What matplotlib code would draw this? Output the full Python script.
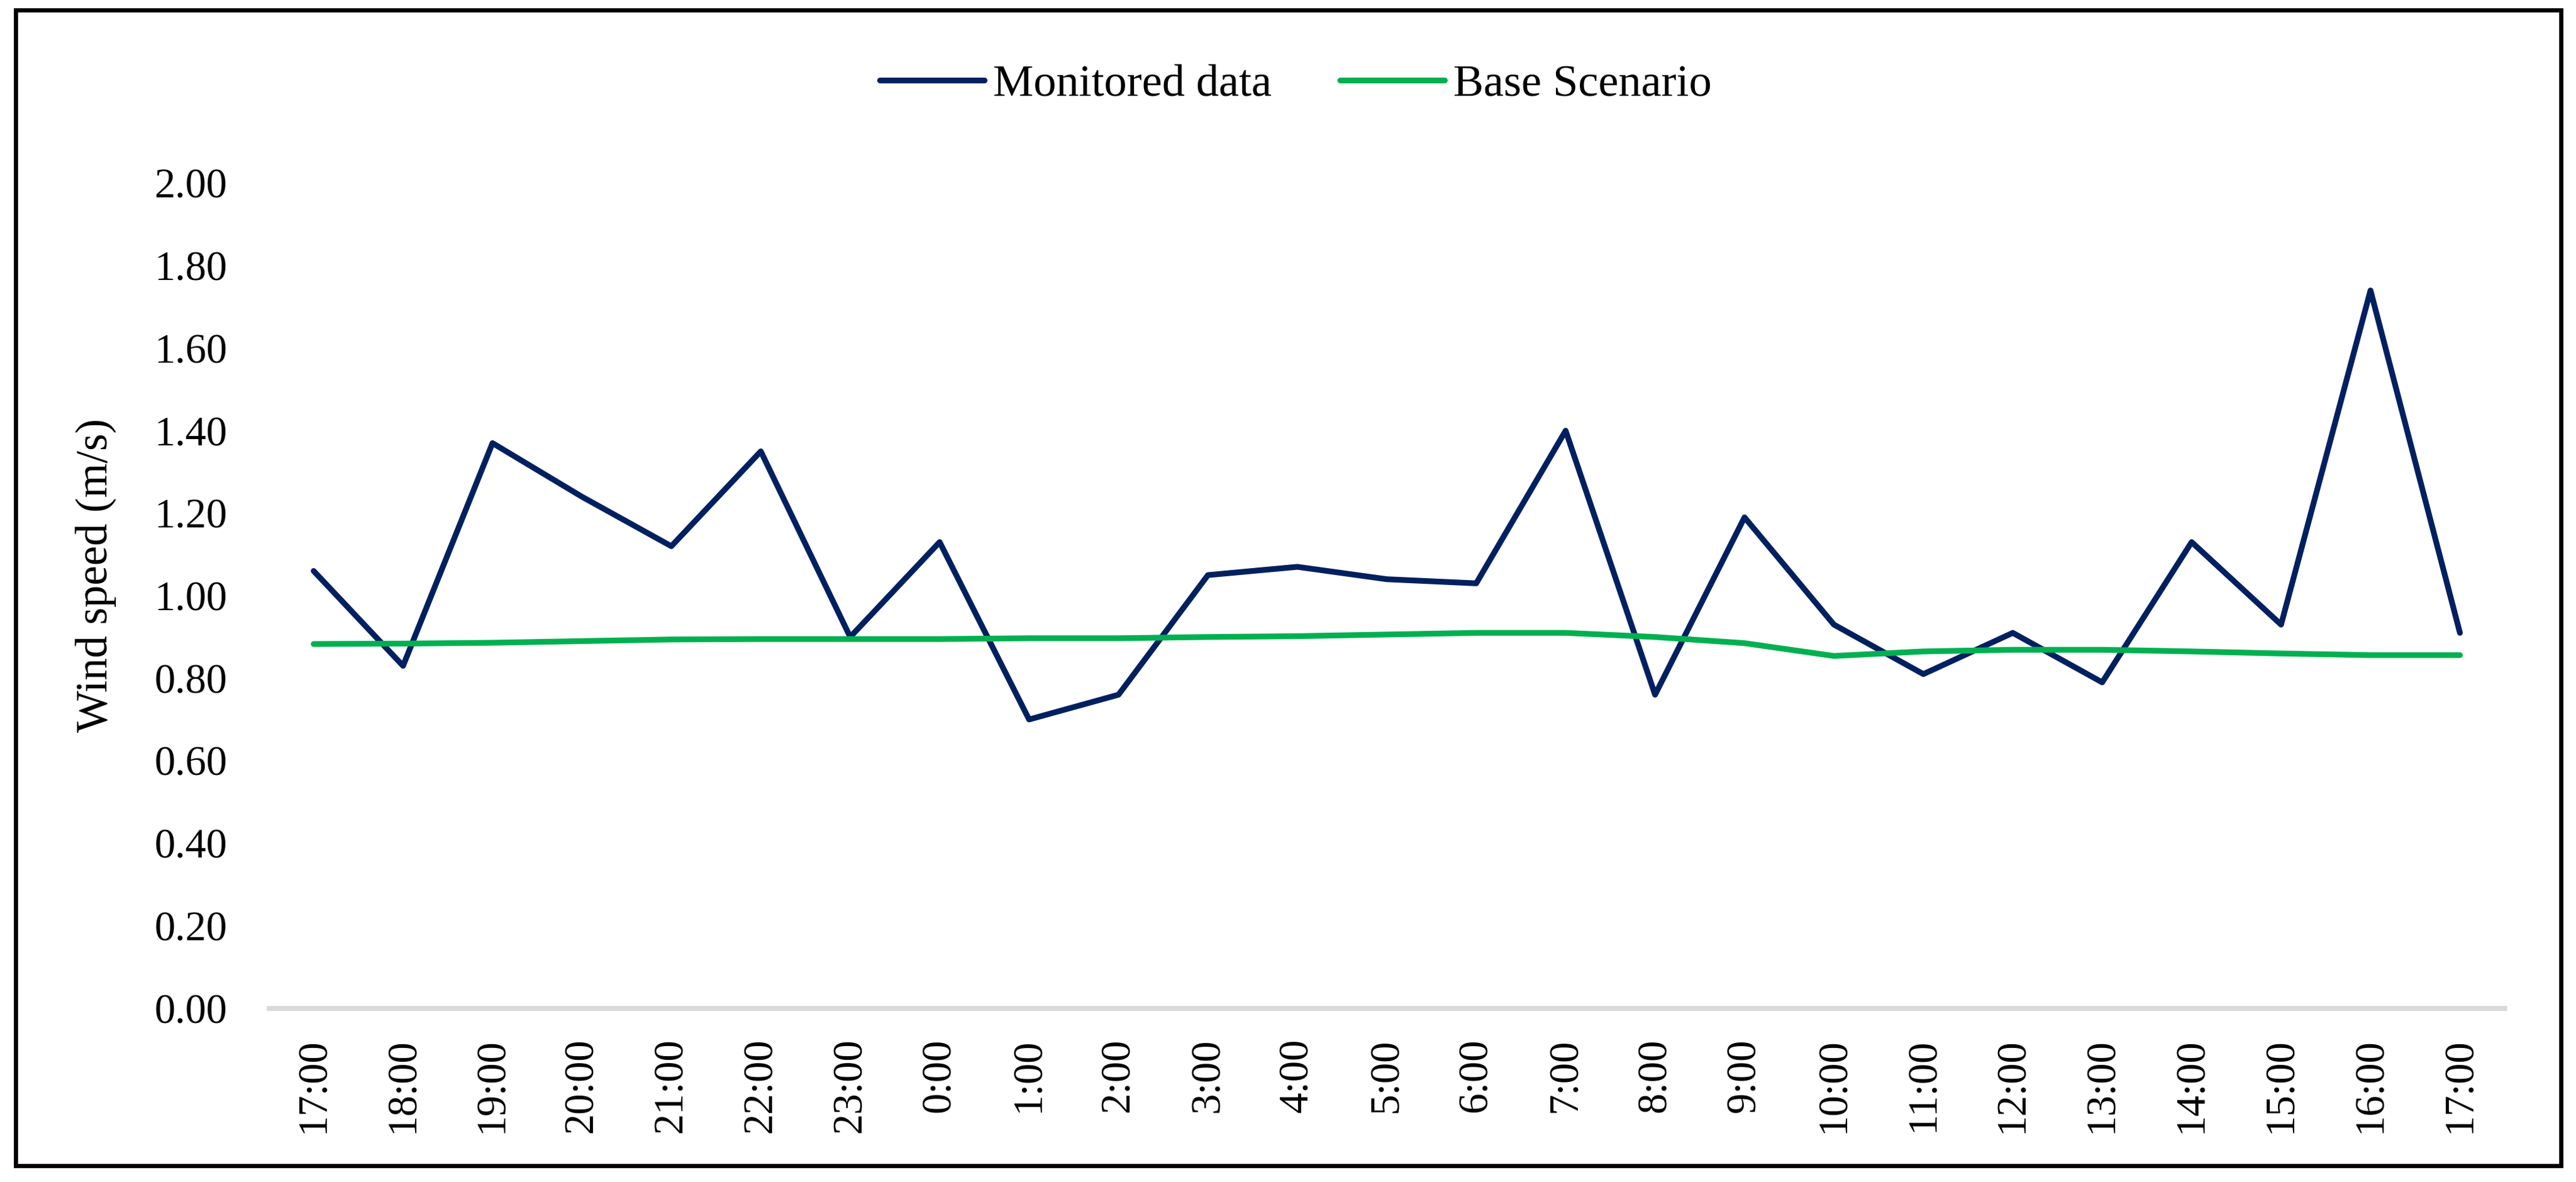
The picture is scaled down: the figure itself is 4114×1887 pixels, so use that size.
import matplotlib
matplotlib.use('Agg')
import matplotlib.pyplot as plt
from matplotlib.patches import Rectangle

# Hourly labels and wind speed series (m/s)
hours = ['17:00', '18:00', '19:00', '20:00', '21:00', '22:00', '23:00', '0:00',
         '1:00', '2:00', '3:00', '4:00', '5:00', '6:00', '7:00', '8:00', '9:00',
         '10:00', '11:00', '12:00', '13:00', '14:00', '15:00', '16:00', '17:00']
monitored = [1.06, 0.83, 1.37, 1.24, 1.12, 1.35, 0.90, 1.13, 0.70, 0.76, 1.05, 1.07,
             1.04, 1.03, 1.40, 0.76, 1.19, 0.93, 0.81, 0.91, 0.79, 1.13, 0.93, 1.74, 0.91]
base = [0.883, 0.884, 0.886, 0.890, 0.894, 0.895, 0.895, 0.895, 0.897, 0.897, 0.900,
        0.902, 0.906, 0.910, 0.910, 0.900, 0.885, 0.854, 0.865, 0.869, 0.869, 0.865,
        0.860, 0.856, 0.856]
yticks = [0.0, 0.2, 0.4, 0.6, 0.8, 1.0, 1.2, 1.4, 1.6, 1.8, 2.0]

plt.rcParams['font.family'] = ['Liberation Serif', 'DejaVu Serif']

fig = plt.figure(figsize=(4114 / 300, 1887 / 300), dpi=300)
ax = fig.add_axes([0.1044, 0.147, 0.8679, 0.698])

x = list(range(len(hours)))
ax.plot(x, monitored, color='#002060', lw=2.2, label='Monitored data',
        solid_joinstyle='round', solid_capstyle='round')
ax.plot(x, base, color='#00B050', lw=2.2, label='Base Scenario',
        solid_joinstyle='round', solid_capstyle='round')

ax.set_xlim(-0.5, len(hours) - 0.5)
ax.set_ylim(0, 2.0)
ax.set_yticks(yticks)
ax.set_yticklabels([f'{v:.2f}' for v in yticks], fontsize=16)
ax.set_xticks(x)
ax.set_xticklabels(hours, rotation=90, fontsize=16)
ax.tick_params(axis='x', length=0, pad=11.5)
ax.tick_params(axis='y', length=0, pad=16)

for s in ['top', 'right', 'left']:
    ax.spines[s].set_visible(False)
ax.spines['bottom'].set_color('#D9D9D9')
ax.spines['bottom'].set_linewidth(1.9)

ax.set_ylabel('Wind speed (m/s)', fontsize=17)
ax.yaxis.label.set_va('center')
ax.yaxis.set_label_coords(-0.0774, 0.525)

ax.legend(loc='center', bbox_to_anchor=(0.503, 0.928), bbox_transform=fig.transFigure,
          ncol=2, frameon=False, fontsize=17.4, handlelength=2.3,
          handletextpad=0.2, columnspacing=1.5)

# outer frame around the whole chart
fig.patches.append(Rectangle((0.0061, 0.0138), 0.9881, 0.9777, transform=fig.transFigure,
                             fill=False, edgecolor='black', linewidth=1.6))

fig.savefig('out.png', dpi=300)
